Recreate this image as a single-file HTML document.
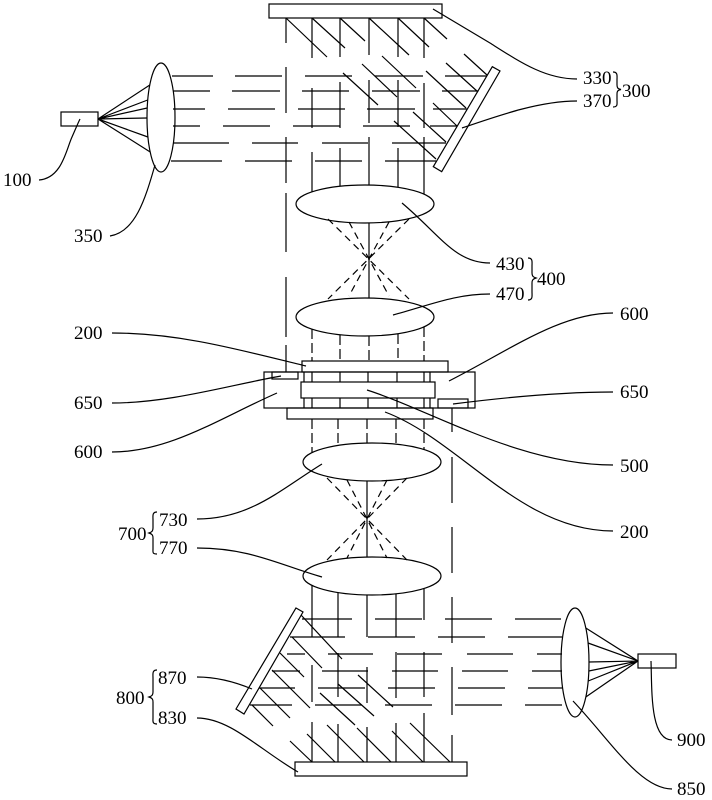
<!DOCTYPE html>
<html>
<head>
<meta charset="utf-8">
<style>
html,body{margin:0;padding:0;background:#fff;}
svg{display:block;}
text{font-family:"Liberation Serif",serif;font-size:19px;fill:#000;}
</style>
</head>
<body>
<svg width="712" height="800" viewBox="0 0 712 800" xmlns="http://www.w3.org/2000/svg">
<g fill="none" stroke="#000" stroke-width="1.2">
<!-- ===== TOP SECTION ===== -->
<rect x="269" y="4" width="173" height="14"/>
<polygon points="492.3,66.7 500,71 441.7,171.7 433.3,166.7"/>
<!-- source 100 and lens 350 -->
<rect x="61" y="112" width="37" height="14"/>
<ellipse cx="161" cy="117.5" rx="14" ry="54.5"/>
<path d="M98,119 L149.8,85 M98,119 L147.7,100 M98,119 L147.2,108 M98,119 L147,118 M98,119 L147.9,137 M98,119 L150.2,152"/>
<!-- horizontal rows -->
<path d="M172,76H213 M235,76H282 M305,76H352 M375,76H423 M445,76H487
M173,91H210 M232,91H280 M302,91H349 M372,91H420 M442,91H478
M173,109H205 M228,109H275 M298,109H345 M367,109H415 M433,109H467
M173,126H200 M223,126H270 M293,126H340 M363,126H410 M430,126H457
M173,143H229 M252,143H298 M322,143H368 M392,143H446
M171,161H222 M245,161H292 M315,161H362 M385,161H436"/>
<!-- verticals top -->
<path d="M286,18V43 M286,67V113 M286,137V183 M286,193V252 M286,277V337 M286,345V372
M312,18V58 M312,88V128 M312,152V192
M340,18V57 M340,82V128 M340,148V186
M369,18V55 M369,80V123 M369,137V185
M398,18V57 M398,80V127 M398,148V187
M424,18V58 M424,83V128 M424,137V194"/>
<!-- diagonals top -->
<path d="M286,18L327,57 M312,18L345,48 M340,18L365,41 M369,18L409,55 M398,18L429,47 M424,18L447,39
M343,73L378,105 M362,64L397,97 M382,56L416,88 M426,71L466,108 M446,63L478,92 M464,54L487,75
M433,103L457,126 M413,112L446,142 M394,121L436,159"/>
<!-- lenses 430 / 470 -->
<ellipse cx="365" cy="204" rx="69" ry="19"/>
<ellipse cx="365" cy="317" rx="69" ry="19"/>
<path d="M369,223V298"/>
<path stroke-dasharray="7,5" d="M328,219L409,299 M409,219L328,299 M349,222L389,296 M389,222L349,296"/>
<!-- columns below lens 470 -->
<path stroke-dasharray="10,4" d="M312,329V361 M340,335V361 M369,336V361 M398,334V361 M424,327V361"/>
<!-- ===== MIDDLE BOX ===== -->
<rect x="302" y="361" width="146" height="11"/>
<rect x="264" y="372" width="211" height="36"/>
<rect x="272" y="372" width="26" height="7"/>
<rect x="438" y="399" width="30" height="9"/>
<rect x="301" y="382" width="134" height="16"/>
<rect x="287" y="408" width="146" height="11"/>
<path d="M304,372V382 M304,398V408 M430,372V382 M430,398V408
M312,372V382 M340,372V382 M368,372V382 M397,372V382 M424,372V382
M312,398V408 M340,398V408 M368,398V408 M397,398V408 M424,398V408"/>
<!-- columns below box -->
<path stroke-dasharray="10,4" d="M312,419V453 M338,419V446 M367,419V443 M396,419V444 M424,419V450"/>
<!-- right long dash line -->
<path d="M452,408V432 M452,457V503 M452,527V573 M452,597V643 M452,667V715 M452,735V762"/>
<!-- lenses 730 / 770 -->
<ellipse cx="372" cy="462" rx="69" ry="19"/>
<ellipse cx="372" cy="576" rx="69" ry="19"/>
<path d="M367,481V557"/>
<path stroke-dasharray="7,5" d="M327,478L407,560 M407,478L327,560 M347,480L387,558 M387,480L347,558"/>
<!-- ===== BOTTOM SECTION ===== -->
<rect x="295" y="762" width="172" height="14"/>
<polygon points="296,608 303,612 244,714 236,709"/>
<rect x="638" y="654" width="38" height="14"/>
<ellipse cx="575" cy="662.5" rx="14" ry="54.5"/>
<path d="M638,661L585.8,628 M638,661L588,643 M638,661L589,662 M638,661L588.8,671 M638,661L588.2,681 M638,661L585.8,697"/>
<!-- verticals bottom -->
<path d="M312,585V637 M312,665V702 M312,722V762
M338,593V637 M338,653V697 M338,724V762
M367,595V637 M367,667V703 M367,727V762
M396,594V637 M396,652V698 M396,723V762
M424,589V620 M424,652V697 M424,713V762"/>
<!-- horizontal rows bottom -->
<path d="M302,619H352 M375,619H422 M445,619H492 M515,619H561
M290,637H345 M368,637H415 M438,637H485 M508,637H562
M287,654H305 M328,654H373 M397,654H442 M467,654H513 M537,654H562
M272,671H300 M322,671H368 M392,671H438 M462,671H508 M532,671H562
M259,688H295 M318,688H365 M388,688H435 M458,688H505 M528,688H562
M250,705H292 M315,705H362 M385,705H432 M455,705H502 M525,705H562"/>
<!-- diagonals bottom -->
<path d="M290,741L312,762 M307,734L335,762 M327,725L364,762 M357,728L391,762 M392,731L423,762 M410,723L450,762
M301,615L342,659 M292,637L322,668 M280,653L304,677 M272,670L310,708 M260,688L290,718 M252,705L273,726
M320,693L355,725 M338,684L374,716 M358,675L393,707"/>
<!-- ===== LEADERS ===== -->
<path d="M39,180 C62,178 66,150 72,137 C76,128 78,123 80,119"/>
<path d="M110,236 C135,232 145,200 155,165"/>
<path d="M433,9 L490,43 C520,62 545,79 577,79"/>
<path d="M462,128 C500,115 540,101 577,101"/>
<path d="M402,203 C440,235 455,263 490,263"/>
<path d="M393,315 C430,305 455,294 490,294"/>
<path d="M112,333 C180,333 240,350 306,366"/>
<path d="M112,403 C170,403 230,385 281,376"/>
<path d="M112,452 C170,452 220,418 277,393"/>
<path d="M449,381 C510,350 560,313 613,313"/>
<path d="M453,404 C500,398 560,392 613,392"/>
<path d="M367,390 C430,410 520,465 613,465"/>
<path d="M385,412 C460,440 520,531 613,531"/>
<path d="M197,519 C250,519 280,490 322,464"/>
<path d="M197,548 C250,548 280,565 322,577"/>
<path d="M197,677 C220,677 240,684 252,689"/>
<path d="M197,718 C230,718 260,750 298,772"/>
<path d="M573,701 C610,740 640,789 672,789"/>
<path d="M651,661 C652,690 650,740 672,740"/>
<!-- braces -->
<path d="M613,72 C618,72 617,76 617,80 V85 C617,88 618,89 621,89.5 C618,90 617,91 617,94 V100 C617,104 618,107 613,107"/>
<path d="M528,258 C533,258 532,262 532,266 V273 C532,276 533,277 536,278 C533,279 532,280 532,283 V292 C532,296 533,300 528,300"/>
<path d="M157,512 C152,512 153,516 153,520 V528 C153,531 152,532 149,533 C152,534 153,535 153,538 V549 C153,552 152,554 157,554"/>
<path d="M157,670 C152,670 153,674 153,678 V692 C153,695 152,696 149,697 C152,698 153,699 153,702 V718 C153,721 152,724 157,724"/>
</g>
<!-- ===== LABELS ===== -->
<text x="3" y="186">100</text>
<text x="74" y="242">350</text>
<text x="583" y="84">330</text>
<text x="583" y="107">370</text>
<text x="622" y="97">300</text>
<text x="496" y="270">430</text>
<text x="537" y="285">400</text>
<text x="496" y="300">470</text>
<text x="620" y="320">600</text>
<text x="620" y="398">650</text>
<text x="620" y="472">500</text>
<text x="620" y="538">200</text>
<text x="74" y="339">200</text>
<text x="74" y="409">650</text>
<text x="74" y="458">600</text>
<text x="118" y="540">700</text>
<text x="159" y="526">730</text>
<text x="159" y="554">770</text>
<text x="116" y="704">800</text>
<text x="158" y="684">870</text>
<text x="158" y="724">830</text>
<text x="677" y="746">900</text>
<text x="677" y="795">850</text>
</svg>
</body>
</html>
